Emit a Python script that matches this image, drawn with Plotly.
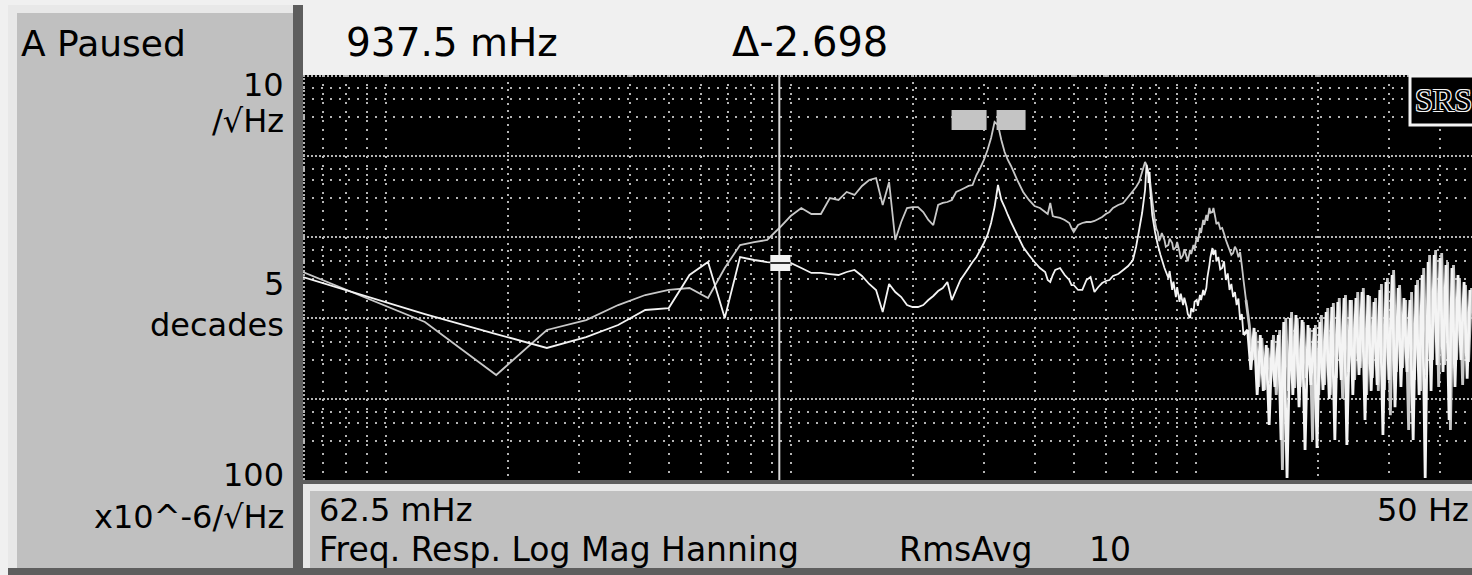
import numpy as np
import plotly.graph_objects as go

# ---------------------------------------------------------------------------
# Frequency response, log magnitude, 800-line FFT (62.5 mHz line spacing)
# ---------------------------------------------------------------------------
LINE_SPACING = 0.0625          # Hz per FFT line
START_HZ, SPAN_HZ = 0.0625, 50.0
CURSOR_LINE = 15               # cursor sits on line 15 -> 937.5 mHz

# Trace A (white): FFT line numbers and log10 magnitude in decades of V/sqrt(Hz)
lines_a = [1, 2, 3, 4, 5, 6, 7, 8, 9, 10, 11, 12, 13, 14, 15, 16, 17, 18, 19, 20,
           21, 22, 23, 24, 25, 26, 27, 28, 29, 30, 31, 32, 33, 34, 35, 36, 37, 38, 39, 40,
           41, 42, 43, 44, 45, 46, 47, 48, 49, 50, 51, 52, 53, 54, 55, 56, 58, 60, 62, 64,
           66, 68, 69, 70, 71, 72, 74, 76, 78, 79, 80, 82, 84, 86, 88, 90, 92, 94, 96, 98,
           100, 103, 106, 109, 112, 114, 116, 118, 120, 121, 123, 125, 127, 129, 131, 134,
           137, 138, 140, 141, 143, 144, 146, 147, 149, 150, 152, 153, 155, 156, 158, 159,
           161, 162, 164, 165, 167, 168, 170, 171, 173, 174, 176, 177, 179, 180, 182, 184,
           186, 188, 190, 192, 194, 196, 198, 200, 202, 204, 206, 208, 210]
log_mag_a = [-1.494, -1.951, -2.198, -2.370, -2.235, -2.086, -1.901, -1.877, -1.469, -1.309,
             -2.000, -1.247, -1.284, -1.309, -1.321, -1.321, -1.383, -1.444, -1.444, -1.457,
             -1.469, -1.432, -1.407, -1.481, -1.580, -1.654, -1.926, -1.580, -1.679, -1.741,
             -1.840, -1.864, -1.864, -1.840, -1.778, -1.728, -1.667, -1.630, -1.556, -1.778,
             -1.654, -1.531, -1.457, -1.383, -1.309, -1.247, -1.160, -1.074, -0.975, -0.827,
             -0.630, -0.358, -0.543, -0.630, -0.728, -0.815, -0.975, -1.123, -1.222, -1.309,
             -1.383, -1.432, -1.531, -1.556, -1.469, -1.407, -1.383, -1.469, -1.531, -1.593,
             -1.593, -1.654, -1.654, -1.531, -1.494, -1.679, -1.617, -1.568, -1.543, -1.531,
             -1.481, -1.457, -1.407, -1.358, -1.284, -1.123, -0.914, -0.704, -0.420, -0.111,
             -0.296, -0.728, -0.938, -1.099, -1.222, -1.383,
             -1.506, -1.420, -1.654, -1.550, -1.741, -1.620, -1.802, -1.700, -1.840, -1.750,
             -1.864, -1.950, -2.000, -1.880, -1.926, -1.800, -1.778, -1.850, -1.716, -1.780,
             -1.654, -1.720, -1.630, -1.500, -1.346, -1.250, -1.136, -1.220, -1.160, -1.300,
             -1.247, -1.400, -1.383, -1.300, -1.531, -1.450, -1.654, -1.580, -1.741, -1.680,
             -1.840, -1.760, -2.025, -1.950, -2.210]

# Trace A above ~13 Hz: noise floor, alternating crest / trough readings
noise_lines_a = [215, 219, 223, 227, 231, 235, 239, 243, 247, 251, 256, 260, 264, 269, 274,
                 278, 283, 288, 293, 298, 303, 308, 314, 319, 324, 330, 336, 342, 347, 353,
                 359, 366, 372, 378, 385, 391, 398, 405, 412, 419, 426, 434, 441, 449, 456,
                 464, 472, 480, 489, 497, 506, 514, 523, 532, 541, 551, 560, 570, 580, 590,
                 600, 610, 621, 631, 642, 653, 664, 676, 687, 699, 711, 723, 736, 749, 761]
noise_log_mag_a = [-2.148, -2.642, -2.123, -2.951, -2.210, -2.900, -2.333, -3.321, -2.272, -2.850,
                   -2.210, -3.506, -2.049, -3.975, -2.000, -2.951, -1.963, -3.100, -2.025, -3.630,
                   -2.086, -2.827, -2.123, -3.605, -2.049, -2.889, -1.926, -3.000, -1.864, -3.506,
                   -1.802, -2.765, -1.753, -3.568, -1.778, -2.950, -1.753, -2.704, -1.679, -3.259,
                   -1.716, -2.900, -1.802, -2.827, -1.654, -3.444, -1.556, -2.765, -1.469, -3.100,
                   -1.630, -2.850, -1.753, -2.667, -1.778, -3.506, -1.593, -2.951, -1.469, -3.975,
                   -1.309, -2.900, -1.222, -2.580, -1.259, -2.667, -1.346, -3.259, -1.383, -2.850,
                   -1.469, -2.519, -1.556, -2.750, -1.654]

# Trace B (grey)
lines_b = [1, 2, 3, 4, 5, 6, 7, 8, 9, 10, 11, 12, 13, 14, 15, 16, 17, 18, 19, 20,
           21, 22, 23, 24, 25, 26, 27, 28, 29, 30, 31, 32, 33, 34, 35, 36, 37, 38, 39, 40,
           41, 42, 43, 44, 45, 46, 47, 48, 49, 50, 51, 52, 53, 54, 55, 56, 58, 60, 62, 64,
           66, 68, 69, 70, 71, 72, 74, 76, 78, 79, 80, 82, 84, 86, 88, 90, 92, 94, 96, 98,
           100, 103, 106, 109, 112, 114, 116, 118, 120, 121, 123, 125,
           127, 128, 129, 130, 131, 132, 134, 135, 137, 138, 140, 141, 143, 144, 146, 147,
           149, 150, 152, 153, 155, 156, 158, 159, 161, 162, 164, 165, 167, 168, 170, 171,
           173, 174, 176, 177, 179, 180, 182, 184, 186, 188, 190, 192, 194, 196, 198, 200,
           202, 204, 206, 208, 210, 213]
log_mag_b = [-1.432, -2.049, -2.704, -2.148, -2.025, -1.840, -1.716, -1.654, -1.630, -1.753,
             -1.383, -1.099, -1.062, -1.037, -0.889, -0.741, -0.642, -0.716, -0.716, -0.519,
             -0.543, -0.444, -0.481, -0.370, -0.296, -0.272, -0.605, -0.321, -1.037, -0.815,
             -0.642, -0.630, -0.630, -0.691, -0.790, -0.852, -0.605, -0.580, -0.568, -0.543,
             -0.444, -0.420, -0.395, -0.370, -0.358, -0.235, -0.148, -0.049, 0.074, 0.222,
             0.420, 0.383, 0.198, 0.049, -0.049, -0.123, -0.296, -0.444, -0.543, -0.617,
             -0.642, -0.691, -0.716, -0.580, -0.741, -0.753, -0.765, -0.790, -0.827, -0.889,
             -0.938, -0.852, -0.827, -0.815, -0.815, -0.802, -0.778, -0.753, -0.716, -0.691,
             -0.642, -0.605, -0.580, -0.506, -0.432, -0.383, -0.321, -0.198, -0.074, -0.111,
             -0.235, -0.543,
             -0.815, -0.900, -0.938, -1.050, -1.012, -0.950, -1.037, -1.120, -1.099, -1.020,
             -1.074, -1.160, -1.123, -1.060, -1.185, -1.270, -1.222, -1.150, -1.247, -1.300,
             -1.160, -1.210, -1.099, -1.150, -1.000, -1.060, -0.889, -0.950, -0.790, -0.850,
             -0.728, -0.800, -0.642, -0.700, -0.691, -0.640, -0.765, -0.840, -0.815, -0.900,
             -0.889, -0.960, -1.037, -1.100, -1.160, -1.220, -1.198, -1.120, -1.160, -1.250,
             -1.185, -1.350, -1.531, -1.778]

noise_lines_b = [217, 221, 225, 229, 233, 237, 241, 245, 249, 253, 258, 262, 267, 271, 276,
                 281, 285, 290, 295, 300, 306, 311, 316, 322, 327, 333, 339, 344, 350, 356,
                 362, 369, 375, 381, 388, 395, 402, 408, 415, 423, 430, 437, 445, 452, 460,
                 468, 476, 484, 493, 501, 510, 519, 528, 537, 546, 555, 565, 575, 585, 595,
                 605, 615, 626, 637, 648, 659, 670, 681, 693, 705, 717, 730, 742, 755, 768]
noise_log_mag_b = [-2.086, -2.519, -2.173, -2.850, -2.247, -2.889, -2.370, -2.800, -2.210, -2.950,
                   -2.148, -3.877, -2.000, -2.900, -1.926, -2.864, -2.000, -2.850, -2.049, -2.741,
                   -2.123, -3.506, -2.086, -2.950, -1.963, -2.827, -1.877, -2.951, -1.815, -2.741,
                   -1.753, -3.000, -1.716, -2.667, -1.778, -2.765, -1.679, -2.617, -1.630, -2.951,
                   -1.728, -2.741, -1.753, -2.900, -1.580, -2.889, -1.506, -3.200, -1.407, -2.667,
                   -1.593, -2.617, -1.778, -3.383, -1.679, -2.765, -1.531, -2.900, -1.383, -2.704,
                   -1.222, -2.519, -1.160, -2.850, -1.198, -2.580, -1.309, -3.383, -1.346, -2.519,
                   -1.506, -2.827, -1.593, -2.543, -1.630]

# Grid positions (Hz and V/sqrt(Hz))
x_major_grid = [0.2, 2, 20]
x_minor_grid = [0.07, 0.08, 0.09, 0.1, 0.3, 0.4, 0.5, 0.6, 0.7, 0.8, 0.9, 1.0,
                3, 4, 5, 6, 7, 8, 9, 10, 30, 40]
y_major_grid = [1e-4, 1e-3, 1e-2, 1e-1, 1, 10]
y_minor_grid = [m * 10.0 ** e for e in range(-4, 1) for m in (3, 5, 7)]

# ---------------------------------------------------------------------------
freq_a = np.array(lines_a) * LINE_SPACING
mag_a = 10.0 ** np.array(log_mag_a)
freq_b = np.array(lines_b) * LINE_SPACING
mag_b = 10.0 ** np.array(log_mag_b)
# noise segments start from the last point of the resolved part so the curves join
nfreq_a = np.array(lines_a[-1:] + noise_lines_a) * LINE_SPACING
nmag_a = 10.0 ** np.array(log_mag_a[-1:] + noise_log_mag_a)
nfreq_b = np.array(lines_b[-1:] + noise_lines_b) * LINE_SPACING
nmag_b = 10.0 ** np.array(log_mag_b[-1:] + noise_log_mag_b)

cursor_idx = lines_a.index(CURSOR_LINE)
cursor_f, cursor_m = freq_a[cursor_idx], mag_a[cursor_idx]
peak_b = int(np.argmax(mag_b))
peak_a = int(np.argmax(mag_a))

W, H = 1472, 575
L, T, B = 303, 75, 95
PW, PH = W - L, H - T - B
DEC_PX = 405.0                      # pixels per frequency decade
x_lo = np.log10(START_HZ)
x_hi = x_lo + PW / DEC_PX           # screen ends before the 50 Hz stop
y_lo, y_hi = -4.0, 1.0

GRID = "#b4b4b4"
PANEL = "#c0c0c0"
LIGHT = "#e8e8e8"
DITHER = "#5e5e5e"
FONT = "DejaVu Sans"
WHITE, GREY = "#f4f4f4", "#c8c8c8"


def px(xp):
    return (xp - L) / PW


def py(yp):
    return (T + PH - yp) / PH


def data_paper(f, m):
    """Paper position of a data point on the log/log axes."""
    return ((np.log10(f) - x_lo) / (x_hi - x_lo),
            (np.log10(m) - y_lo) / (y_hi - y_lo))


fig = go.Figure()
for fx, my, col, wd in ((freq_b, mag_b, GREY, 1.8), (nfreq_b, nmag_b, GREY, 2.8),
                        (freq_a, mag_a, WHITE, 1.8), (nfreq_a, nmag_a, WHITE, 2.8)):
    fig.add_trace(go.Scatter(x=fx, y=my, mode="lines",
                             line=dict(color=col, width=wd, simplify=False),
                             hoverinfo="skip"))

shapes = []


def rect(x0, y0, x1, y1, color, layer="above"):
    shapes.append(dict(type="rect", xref="paper", yref="paper",
                       x0=px(x0), x1=px(x1), y0=py(y1), y1=py(y0),
                       fillcolor=color, line=dict(width=0), layer=layer))


def marker_box(f, m, dx0, dx1, dy0, dy1, color):
    """Rectangle offset in screen pixels (dy up) from a data point."""
    cx, cy = data_paper(f, m)
    shapes.append(dict(type="rect", xref="paper", yref="paper",
                       x0=cx + dx0 / PW, x1=cx + dx1 / PW,
                       y0=cy + dy0 / PH, y1=cy + dy1 / PH,
                       fillcolor=color, line=dict(width=0)))


# left status panel
rect(8, 5, 293, 570, LIGHT)
rect(17, 13, 293, 570, PANEL)
rect(293, 5, 303, 575, DITHER)
rect(8, 568, 303, 575, DITHER)
# bottom info panel
rect(303, 480, W, 484, DITHER)
rect(303, 484, W, 568, LIGHT)
rect(310, 491, W, 568, PANEL)
rect(303, 568, W, 575, DITHER)

# dotted frame edges of the display
shapes.append(dict(type="line", xref="paper", yref="paper", x0=px(304), x1=px(304),
                   y0=0, y1=1, line=dict(color=GRID, width=2, dash="2px,2px")))
shapes.append(dict(type="line", xref="paper", yref="paper", x0=0, x1=1,
                   y0=py(76), y1=py(76), line=dict(color=GRID, width=2, dash="2px,2px")))

# cursor line and its marker on trace A
shapes.append(dict(type="line", xref="x", yref="paper", x0=cursor_f, x1=cursor_f,
                   y0=0, y1=1, line=dict(color="#d8d8d8", width=2)))
marker_box(cursor_f, cursor_m, -9, 11, -8, 8, "#f2f2f2")
marker_box(cursor_f, cursor_m, -9, 11, -1, 1, "#303030")

# peak markers
marker_box(freq_b[peak_b], mag_b[peak_b], -43, -8, -8, 12, "#c4c4c4")
marker_box(freq_b[peak_b], mag_b[peak_b], 2, 31, -8, 12, "#c4c4c4")
marker_box(freq_a[peak_a], mag_a[peak_a], 1, 4, -18, -7, "#ffffff")

# SRS badge
shapes.append(dict(type="rect", xref="paper", yref="paper", x0=px(1410), x1=px(1490),
                   y0=py(125), y1=py(76), fillcolor="black",
                   line=dict(color="#f4f4f4", width=3)))

annotations = []


def text(s, x, y, size, anchor="left", color="black", family=FONT, **kw):
    annotations.append(dict(text=s, xref="paper", yref="paper", x=px(x), y=py(y),
                            xanchor=anchor, yanchor="middle", showarrow=False,
                            borderpad=0,
                            font=dict(family=family, size=size, color=color), **kw))


text("A Paused", 20, 44, 36)
text("10", 285, 85, 32, "right")
text("/√Hz", 285, 121, 32, "right")
text("5", 285, 284, 32, "right")
text("decades", 285, 325, 32, "right")
text("100", 285, 475, 32, "right")
text("x10^-6/√Hz", 285, 517, 32, "right")

text(f"{CURSOR_LINE * LINE_SPACING * 1000:.1f} mHz", 345, 42, 39)
text("Δ-2.698", 731, 42, 40)

text(f"{START_HZ * 1000:.1f} mHz", 318, 510, 32)
text(f"{SPAN_HZ:.0f} Hz", 1376, 510, 32)
text("Freq. Resp. Log Mag Hanning", 318, 549, 33)
text("RmsAvg", 898, 549, 33)
text("10", 1088, 549, 33)

annotations.append(dict(text="SRS", xref="paper", yref="paper", x=px(1414), y=py(100),
                        xanchor="left", yanchor="middle", showarrow=False, borderpad=0,
                        font=dict(family="Liberation Serif", size=32, color="black",
                                  shadow="1px 1px 0 #f4f4f4, -1px -1px 0 #f4f4f4, "
                                         "1px -1px 0 #f4f4f4, -1px 1px 0 #f4f4f4")))

fig.update_layout(
    width=W, height=H,
    margin=dict(l=L, r=0, t=T, b=B, pad=0),
    paper_bgcolor="#f0f0f0",
    plot_bgcolor="black",
    showlegend=False,
    shapes=shapes,
    annotations=annotations,
    xaxis=dict(type="log", range=[x_lo, x_hi], showticklabels=False, ticks="",
               zeroline=False, showline=False, tickvals=x_major_grid,
               showgrid=True, gridcolor=GRID, gridwidth=2, griddash="2px,5px",
               minor=dict(tickvals=x_minor_grid, showgrid=True, gridcolor=GRID,
                          gridwidth=2, griddash="2px,7px", ticks="")),
    yaxis=dict(type="log", range=[y_lo, y_hi], showticklabels=False, ticks="",
               zeroline=False, showline=False, tickvals=y_major_grid,
               showgrid=True, gridcolor=GRID, gridwidth=2, griddash="2px,2px",
               minor=dict(tickvals=y_minor_grid, showgrid=True, gridcolor=GRID,
                          gridwidth=2, griddash="2px,7px", ticks="")),
)

fig.write_html("out.html")
